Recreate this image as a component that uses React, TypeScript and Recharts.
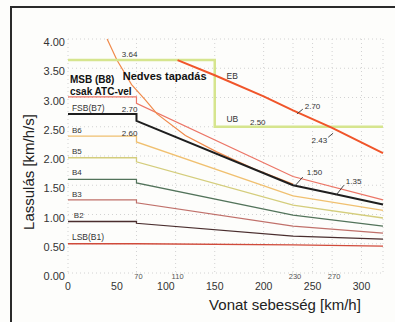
import React from 'react';
import { LineChart, Line, XAxis, YAxis, CartesianGrid, ReferenceDot, ReferenceLine } from 'recharts';

// speed v [km/h], deceleration a [km/h/s]
const LSB_B1 = [{ v: 0, a: 0.5 }, { v: 70, a: 0.5 }, { v: 230, a: 0.48 }, { v: 322, a: 0.46 }];
const B2 = [{ v: 0, a: 0.88 }, { v: 70, a: 0.88 }, { v: 70, a: 0.85 }, { v: 230, a: 0.63 }, { v: 322, a: 0.58 }];
const B3 = [{ v: 0, a: 1.25 }, { v: 70, a: 1.25 }, { v: 70, a: 1.2 }, { v: 230, a: 0.8 }, { v: 322, a: 0.68 }];
const B4 = [{ v: 0, a: 1.6 }, { v: 70, a: 1.6 }, { v: 70, a: 1.54 }, { v: 230, a: 0.99 }, { v: 322, a: 0.8 }];
const B5 = [{ v: 0, a: 1.97 }, { v: 70, a: 1.97 }, { v: 70, a: 1.9 }, { v: 230, a: 1.16 }, { v: 322, a: 0.94 }];
const B6 = [{ v: 0, a: 2.34 }, { v: 70, a: 2.34 }, { v: 70, a: 2.24 }, { v: 230, a: 1.32 }, { v: 322, a: 1.07 }];
const FSB_B7 = [{ v: 0, a: 2.72 }, { v: 70, a: 2.72 }, { v: 70, a: 2.6 }, { v: 230, a: 1.5 }, { v: 270, a: 1.36 }, { v: 322, a: 1.17 }];
const MSB_B8 = [{ v: 0, a: 3.01 }, { v: 70, a: 3.01 }, { v: 70, a: 2.9 }, { v: 230, a: 1.65 }, { v: 322, a: 1.25 }];
const LIMIT = [{ v: 0, a: 3.64 }, { v: 150, a: 3.64 }, { v: 150, a: 2.5 }, { v: 322, a: 2.5 }];
const EB = [{ v: 112, a: 3.64 }, { v: 150, a: 3.38 }, { v: 200, a: 3.02 }, { v: 230, a: 2.78 }, { v: 270, a: 2.48 }, { v: 322, a: 2.05 }];
const ADHESION = [
  { v: 40, a: 4.0 }, { v: 50, a: 3.64 }, { v: 65, a: 3.22 }, { v: 79, a: 2.96 }, { v: 91, a: 2.72 },
  { v: 120, a: 2.35 }, { v: 152, a: 2.07 }, { v: 190, a: 1.78 }, { v: 230, a: 1.52 },
];

const X_TICKS = [0, 50, 70, 100, 110, 150, 200, 230, 250, 270, 300];
const X_MINOR = [70, 110, 230, 270];
const Y_TICKS = [0, 0.5, 1, 1.5, 2, 2.5, 3, 3.5, 4];
const V_GRID = [0, 70, 110, 150, 200, 230, 250, 270, 300, 322];

const NOTES = [
  { v: 2, a: 3.3, text: 'MSB (B8)', size: 10, bold: true },
  { v: 2, a: 3.11, text: 'csak ATC-vel', size: 10, bold: true },
  { v: 56, a: 3.37, text: 'Nedves tapadás', size: 11, bold: true },
  { v: 55, a: 3.73, text: '3.64', size: 8 },
  { v: 4, a: 2.82, text: 'FSB(B7)', size: 8.5 },
  { v: 55, a: 2.79, text: '2.70', size: 8 },
  { v: 4, a: 2.43, text: 'B6', size: 8 },
  { v: 55, a: 2.39, text: '2.60', size: 8 },
  { v: 4, a: 2.07, text: 'B5', size: 8 },
  { v: 4, a: 1.71, text: 'B4', size: 8 },
  { v: 4, a: 1.35, text: 'B3', size: 8 },
  { v: 6, a: 0.99, text: 'B2', size: 8 },
  { v: 4, a: 0.62, text: 'LSB(B1)', size: 8.5 },
  { v: 162, a: 3.37, text: 'EB', size: 8.5 },
  { v: 162, a: 2.63, text: 'UB', size: 8.5 },
  { v: 186, a: 2.58, text: '2.50', size: 8 },
  { v: 242, a: 2.85, text: '2.70', size: 8 },
  { v: 249, a: 2.26, text: '2.43', size: 8 },
  { v: 244, a: 1.71, text: '1.50', size: 8 },
  { v: 284, a: 1.57, text: '1.35', size: 8 },
];

const ARROWS = [
  { v1: 240, a1: 2.8, v2: 234, a2: 2.72 },
  { v1: 266, a1: 2.32, v2: 271, a2: 2.39 },
  { v1: 240, a1: 1.64, v2: 232, a2: 1.49 },
  { v1: 282, a1: 1.5, v2: 274, a2: 1.33 },
];

const FONT = '"Liberation Sans", Arial, Helvetica, sans-serif';

const NoteLabel = (props: any) => {
  const { viewBox, text, size, bold } = props;
  const x = viewBox.x + (viewBox.width || 0) / 2;
  const y = viewBox.y + (viewBox.height || 0) / 2;
  return (
    <text x={x} y={y} textAnchor="start" dominantBaseline="central" fontSize={size}
      fontWeight={bold ? 'bold' : 'normal'} fill={bold ? '#111' : '#333'} fontFamily={FONT}>
      {text}
    </text>
  );
};

const XTick = (props: any) => {
  const { x, y, payload } = props;
  const minor = X_MINOR.includes(payload.value);
  return (
    <text x={minor ? x + 2 : x} y={minor ? y + 6 : y + 17} textAnchor="middle" fontSize={minor ? 7.5 : 10.5}
      fill={minor ? '#555' : '#333'} fontFamily={FONT}>
      {payload.value}
    </text>
  );
};

const YTick = (props: any) => {
  const { x, y, payload } = props;
  return (
    <text x={x} y={y + 3} textAnchor="end" dominantBaseline="central" fontSize={11} fill="#333" fontFamily={FONT}>
      {payload.value.toFixed(2)}
    </text>
  );
};

export default function App() {
  const line = (data: any[], color: string, width: number, key: string) => (
    <Line key={key} data={data} dataKey="a" type="linear" stroke={color} strokeWidth={width}
      dot={false} activeDot={false} isAnimationActive={false} />
  );
  return (
    <div style={{ position: 'absolute', left: 0, top: 0, width: 395, height: 322, background: '#fdfdfb', overflow: 'hidden' }}>
      <div style={{ position: 'absolute', left: 10, top: 6, width: 400, height: 330, borderLeft: '2px solid #2a2a2a', borderTop: '2px solid #2a2a2a' }} />
      <div style={{ position: 'absolute', left: 0, top: 0 }}>
        <LineChart width={395} height={322} margin={{ top: 39, right: 12, bottom: 19, left: 8 }}>
          <CartesianGrid stroke="#d2d2d2" strokeDasharray="1 3" verticalValues={V_GRID} />
          <XAxis dataKey="v" type="number" domain={[0, 322]} ticks={X_TICKS} interval={0}
            height={30} tickSize={0} tickMargin={0} axisLine={false} tickLine={false} tick={<XTick />} />
          <YAxis type="number" domain={[0, 4]} ticks={Y_TICKS} interval={0} width={60}
            tickSize={0} tickMargin={3} axisLine={false} tickLine={false} tick={<YTick />} />
          {line(LSB_B1, '#d04a3a', 1.3, 'b1')}
          {line(B2, '#4a2e2e', 1.3, 'b2')}
          {line(B3, '#c0706a', 1.2, 'b3')}
          {line(B4, '#52735a', 1.2, 'b4')}
          {line(B5, '#d4cd7c', 1.3, 'b5')}
          {line(B6, '#f0c070', 1.3, 'b6')}
          {line(MSB_B8, '#ec7566', 1.2, 'b8')}
          {line(ADHESION, '#f08a4b', 1.2, 'adh')}
          {line(FSB_B7, '#1e1e1e', 2, 'b7')}
          {line(LIMIT, '#d6e58e', 2.5, 'lim')}
          {line(EB, '#f0552a', 2, 'eb')}
          {ARROWS.map((r, i) => (
            <ReferenceLine key={'ar' + i} segment={[{ x: r.v1, y: r.a1 }, { x: r.v2, y: r.a2 }]}
              stroke="#333" strokeWidth={0.9} ifOverflow="visible" />
          ))}
          {NOTES.map((n, i) => (
            <ReferenceDot key={'n' + i} x={n.v} y={n.a} r={0} fill="none" stroke="none" ifOverflow="visible"
              label={<NoteLabel text={n.text} size={n.size} bold={n.bold} />} />
          ))}
        </LineChart>
      </div>
      <div style={{ position: 'absolute', left: 0, top: 296, width: 570, textAlign: 'center', fontFamily: FONT, fontSize: 15, color: '#222', lineHeight: '18px' }}>
        Vonat sebesség [km/h]
      </div>
      <div style={{ position: 'absolute', left: 29 - 100, top: 172 - 9, width: 200, height: 18, textAlign: 'center', fontFamily: FONT, fontSize: 15, color: '#222', lineHeight: '18px', transform: 'rotate(-90deg)' }}>
        Lassulás [km/h/s]
      </div>
    </div>
  );
}
